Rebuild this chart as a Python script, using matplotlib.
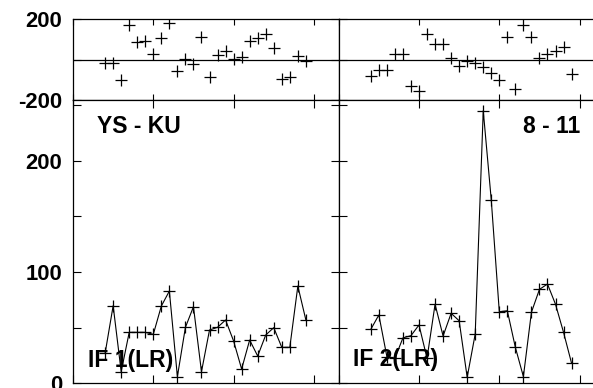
import matplotlib
matplotlib.use("Agg")
import matplotlib.pyplot as plt

plt.rcParams['font.family'] = ['Liberation Sans', 'DejaVu Sans']
plt.rcParams['font.weight'] = 'bold'

# sample index (both IFs share the same sampling)
x = list(range(4, 30))

# IF 1 (LR) : phase (deg) and amplitude
phase1 = [-15, -15, -101, 172, 89, 94, 31, 109, 180, -55, 2, -22, 111, -84,
          23, 43, 2, 12, 94, 106, 126, 56, -93, -84, 18, -5]
amp1 = [27, 69.7, 10.4, 45.8, 45.8, 45.8, 44, 69.4, 82.9, 6, 50.3, 68.8, 10.4,
        47.9, 50.3, 56.9, 38, 12.8, 38.9, 24.5, 43.4, 50, 32.3, 32.3, 87.4, 56.9]

# IF 2 (LR)
phase2 = [-79, -51, -51, 31, 31, -131, -154, 126, 76, 76, 7, -31, -5, -15,
          -38, -65, -101, 111, -146, 172, 114, 7, 31, 44, 64, -71]
amp2 = [48.5, 61.4, 24, 22.5, 40.8, 42.8, 52.4, 22.5, 71, 42.5, 62.9, 56.2,
        5.4, 44.3, 245, 164.7, 64.3, 65.2, 32.3, 6, 63.8, 84.4, 89.2, 71, 45.8, 18]

baseline_label = "YS - KU"
scan_label = "8 - 11"
if_labels = ["IF 1(LR)", "IF 2(LR)"]

W, H = 593, 388
fig = plt.figure(figsize=(W / 100, H / 100), dpi=100)

def frac(x0, y0, x1, y1):
    return [x0 / W, 1 - y1 / H, (x1 - x0) / W, (y1 - y0) / H]

pw = 265.7
lx0, rx0 = 73.0, 338.7
ty0, ty1 = 19.3, 100.3
by0, by1 = 100.3, 383.3

ax_tl = fig.add_axes(frac(lx0, ty0, lx0 + pw, ty1))
ax_tr = fig.add_axes(frac(rx0, ty0, rx0 + pw, ty1))
ax_bl = fig.add_axes(frac(lx0, by0, lx0 + pw, by1))
ax_br = fig.add_axes(frac(rx0, by0, rx0 + pw, by1))

fs_tick = 15.8
fs_lab = 16.5
ms = 8.6

for ax in (ax_tl, ax_tr, ax_bl, ax_br):
    ax.set_xlim(0, pw / 8.03)
    ax.set_xticks([0, 10, 20, 30])
    ax.set_xticklabels([])
    ax.tick_params(direction='in', top=True, right=True, length=6, width=0.8,
                   labelsize=fs_tick, pad=8)
    for s in ax.spines.values():
        s.set_linewidth(0.9)
        s.set_color('black')

for ax, ph in ((ax_tl, phase1), (ax_tr, phase2)):
    ax.set_ylim(-200, 200)
    ax.set_yticks([-200, 0, 200])
    ax.tick_params(axis='x', length=4)
    ax.axhline(0, color='black', lw=0.9)
    ax.plot(x, ph, linestyle='none', marker='+', ms=ms, mew=0.9, color='black')

for ax, am in ((ax_bl, amp1), (ax_br, amp2)):
    ax.set_ylim(0, 254.3)
    ax.set_yticks([0, 50, 100, 150, 200, 250])
    ax.plot(x, am, linestyle='-', lw=0.8, marker='+', ms=ms, mew=0.9, color='black')

ax_tl.set_yticklabels(['-200', '', '200'], fontweight='bold')
ax_bl.set_yticklabels(['0', '', '100', '', '200', ''], fontweight='bold')
ax_tr.set_yticklabels([])
ax_br.set_yticklabels([])

ax_bl.text(0.0903, 0.8834, baseline_label, transform=ax_bl.transAxes,
           fontsize=fs_lab, fontweight='bold', ha='left', va='baseline')
ax_br.text(0.908, 0.8855, scan_label, transform=ax_br.transAxes,
           fontsize=fs_lab, fontweight='bold', ha='right', va='baseline')
ax_bl.text(0.0565, 0.0587, if_labels[0], transform=ax_bl.transAxes,
           fontsize=fs_lab, fontweight='bold', ha='left', va='baseline')
ax_br.text(0.0538, 0.0611, if_labels[1], transform=ax_br.transAxes,
           fontsize=fs_lab, fontweight='bold', ha='left', va='baseline')

fig.savefig('out.png', dpi=100)
